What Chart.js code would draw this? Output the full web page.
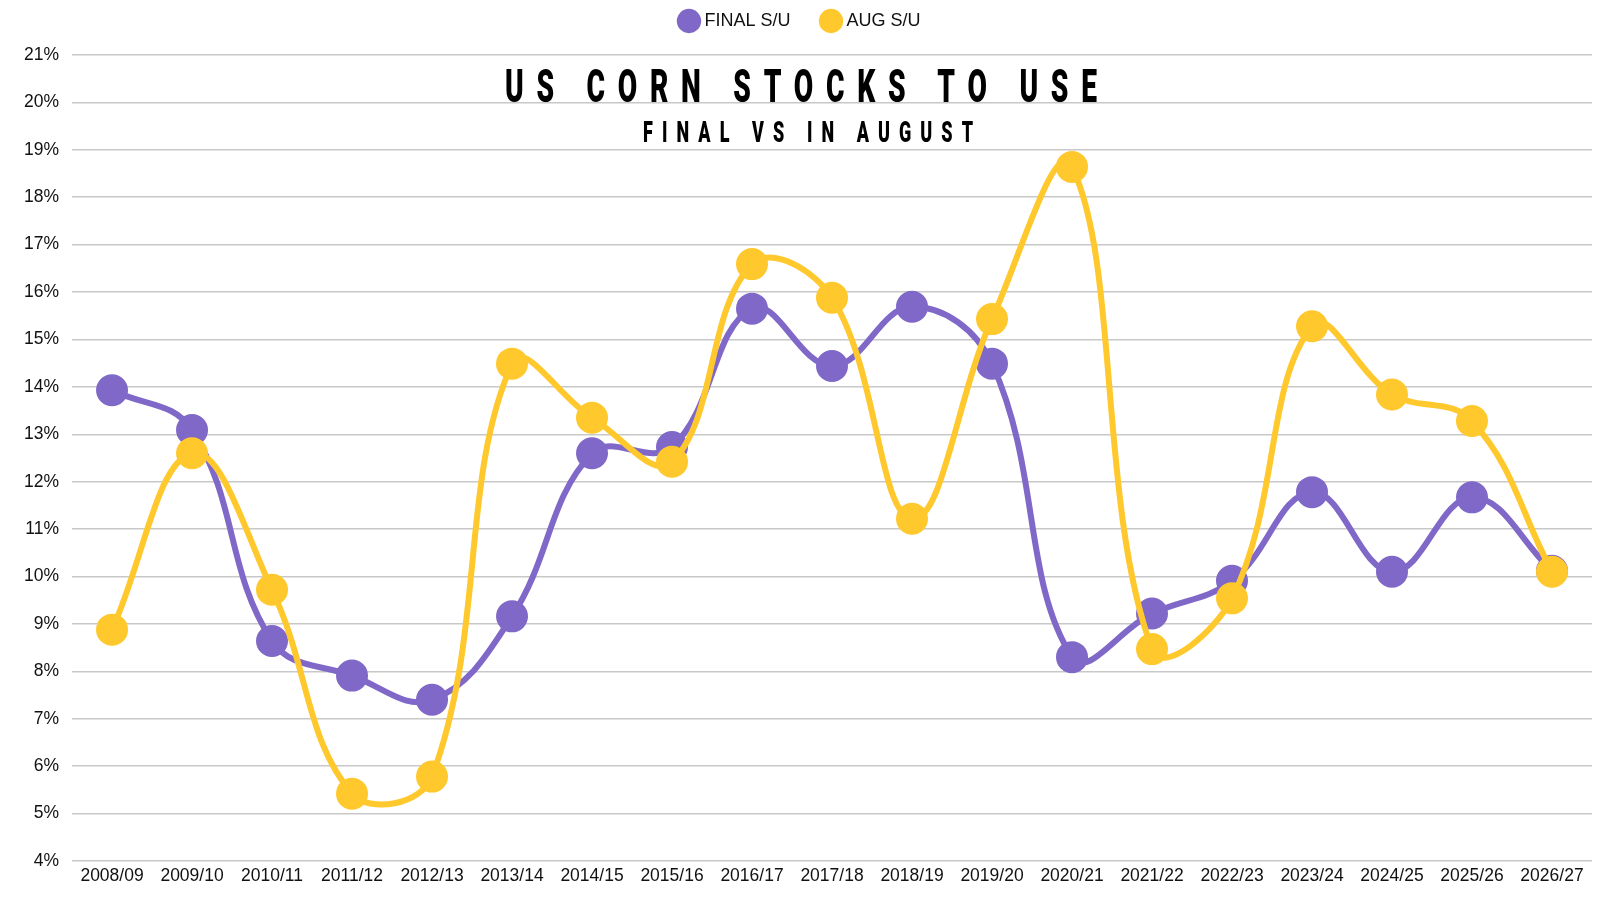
<!DOCTYPE html>
<html>
<head>
<meta charset="utf-8">
<script src="https://cdn.jsdelivr.net/npm/chart.js@4.4.1/dist/chart.umd.min.js"></script>
<style>
  html, body { margin: 0; padding: 0; background: #ffffff; }
  #wrap { position: relative; width: 1600px; height: 900px; overflow: hidden; }
  #c { position: absolute; left: 0; top: 0; }
  .ttl { position: absolute; color: #000; display: inline-block; line-height: 1;
         font-family: Roboto, "DejaVu Sans Condensed", sans-serif; font-weight: 900;
         pointer-events: none; white-space: nowrap; transform-origin: 0 0; }
</style>
</head>
<body>
<div id="wrap">
  <canvas id="c" width="1600" height="900"></canvas>
  <span class="ttl" id="t1">US CORN STOCKS TO USE</span>
  <span class="ttl" id="t2">FINAL VS IN AUGUST</span>
</div>
<script>
const categories = ["2008/09","2009/10","2010/11","2011/12","2012/13","2013/14","2014/15","2015/16","2016/17","2017/18","2018/19","2019/20","2020/21","2021/22","2022/23","2023/24","2024/25","2025/26","2026/27"];
const finalSU = [13.93, 13.09, 8.64, 7.91, 7.40, 9.16, 12.60, 12.73, 15.65, 14.44, 15.69, 14.49, 8.30, 9.22, 9.91, 11.78, 10.10, 11.67, 10.12];
const augSU   = [8.88, 12.60, 9.72, 5.42, 5.78, 14.49, 13.35, 12.42, 16.59, 15.88, 11.22, 15.43, 18.64, 8.47, 9.54, 15.28, 13.84, 13.28, 10.10];
const yTicks = [4,5,6,7,8,9,10,11,12,13,14,15,16,17,18,19,20,21];

const PURPLE = "#8068C8";
const YELLOW = "#FFC82C";

// Title text layout (condensed, letter-spaced)
function layoutTitle(id, fontSize, scale, targetWidth, centerX, capTop) {
  const el = document.getElementById(id);
  el.style.fontSize = fontSize + "px";
  el.style.letterSpacing = "0px";
  const w0 = el.getBoundingClientRect().width;
  const n = el.textContent.length;
  const L = (targetWidth / scale - w0) / (n - 1);
  el.style.letterSpacing = L + "px";
  const visW = scale * (w0 + (n - 1) * L);
  el.style.left = (centerX - visW / 2) + "px";
  el.style.top = (capTop - fontSize * 0.131) + "px";
  el.style.transform = "scaleX(" + scale + ")";
}
layoutTitle("t1", 47, 0.6, 592, 800.5, 68.3);
layoutTitle("t2", 30, 0.6, 330, 808, 121);

Chart.defaults.font.family = "'Liberation Sans', Arial, sans-serif";
Chart.defaults.font.size = 17.5;
Chart.defaults.color = "#111111";

const legendHeightFix = {
  id: "legendHeightFix",
  beforeInit(chart) {
    const origFit = chart.legend.fit;
    chart.legend.fit = function () {
      origFit.call(this);
      this.height += 15;
    };
  }
};

new Chart(document.getElementById("c"), {
  type: "line",
  data: {
    labels: categories,
    datasets: [
      { label: "FINAL S/U", data: finalSU, borderColor: PURPLE, backgroundColor: PURPLE,
        pointBackgroundColor: PURPLE, pointBorderColor: PURPLE, borderWidth: 6,
        pointRadius: 13, tension: 0.4, order: 1 },
      { label: "AUG S/U", data: augSU, borderColor: YELLOW, backgroundColor: YELLOW,
        pointBackgroundColor: YELLOW, pointBorderColor: YELLOW, borderWidth: 6,
        pointRadius: 13, tension: 0.4, order: 0 }
    ]
  },
  plugins: [legendHeightFix],
  options: {
    responsive: false,
    animation: false,
    layout: { autoPadding: false, padding: { left: 11, right: 8, top: -22, bottom: 8 } },
    plugins: {
      legend: {
        position: "top",
        labels: {
          usePointStyle: true, pointStyle: "circle", boxWidth: 13, boxHeight: 13,
          padding: 34, color: "#111111", font: { size: 18 },
          sort: (a, b) => a.datasetIndex - b.datasetIndex
        }
      },
      tooltip: { enabled: false },
      title: { display: false }
    },
    scales: {
      x: {
        type: "category",
        offset: true,
        grid: { display: false, drawTicks: false },
        border: { display: false },
        ticks: { padding: 5, maxRotation: 0, autoSkip: false },
        afterFit: (scale) => { scale.paddingLeft = 0; scale.paddingRight = 0; }
      },
      y: {
        min: 4, max: 21,
        afterBuildTicks: (axis) => { axis.ticks = yTicks.map(v => ({ value: v })); },
        grid: { color: "#c8c8c8", lineWidth: 1.5, drawTicks: false },
        border: { display: false },
        ticks: { padding: 13, callback: (v) => v + "%" }
      }
    }
  }
});
</script>
</body>
</html>
